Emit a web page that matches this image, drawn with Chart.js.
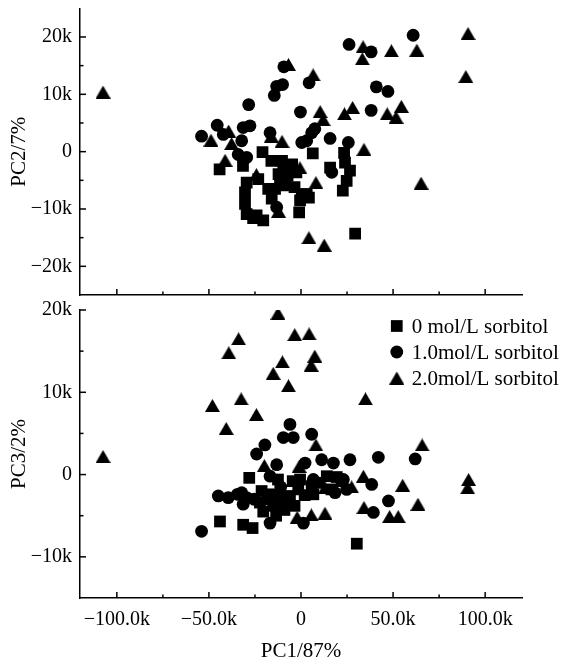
<!DOCTYPE html>
<html>
<head>
<meta charset="utf-8">
<script src="https://cdn.jsdelivr.net/npm/chart.js@4/dist/chart.umd.min.js"></script>
<style>
html,body{margin:0;padding:0;background:#fff;}
#wrap{position:relative;width:561px;height:667px;overflow:hidden;background:#fff;}
canvas{position:absolute;left:0;top:0;}
</style>
</head>
<body>
<div id="wrap">
<canvas id="c1" width="561" height="667"></canvas>
<canvas id="c2" width="561" height="667"></canvas>
</div>
<script>
// ---------- data (values in thousands) ----------
const seriesLabels = ['0 mol/L sorbitol', '1.0mol/L sorbitol', '2.0mol/L sorbitol'];

const xTicks = [-100, -50, 0, 50, 100];
const xTickLabels = ['\u2212100.0k', '\u221250.0k', '0', '50.0k', '100.0k'];
const xMinorTicks = [-75, -25, 25, 75];

const pc2Ticks = [-20, -10, 0, 10, 20];
const pc2TickLabels = ['\u221220k', '\u221210k', '0', '10k', '20k'];
const pc2MinorTicks = [-15, -5, 5, 15];

const pc3Ticks = [-10, 0, 10, 20];
const pc3TickLabels = ['\u221210k', '0', '10k', '20k'];
const pc3MinorTicks = [-5, 5, 15];

// PC1 vs PC2 (top panel)
const pc2Sorb0 = [[-44.2,-3.1],[-31.5,-2.5],[-20.9,-0.1],[-29.5,-5.4],[-23.2,-4.8],[-30.4,-7.1],[-17.8,-6.5],
  [-30.4,-9.1],[-29.5,-10.9],[-24.1,-11.1],[-20.5,-12.0],[-15.9,-8.2],[-16.1,-1.6],[-10.3,-1.6],[-4.8,-2.2],
  [-12.2,-3.9],[-7.3,-4.2],[-2.5,-3.6],[-8.3,-5.9],[-3.5,-6.2],[-14.1,-6.5],[0.4,-7.4],[4.3,-8.0],[-1.0,-10.6],
  [6.4,-0.3],[23.4,-0.2],[23.9,-1.9],[26.6,-3.3],[24.8,-5.1],[22.7,-6.8],[15.8,-2.8],[29.4,-14.3],[-0.5,-8.5],
  [-11.4,-4.5],[-26.0,-11.6],[-9.6,-2.5],[3.1,-7.4]];
const pc2Sorb1 = [[60.9,20.3],[26.1,18.7],[38.1,17.4],[-9.3,14.8],[-13.2,11.4],[-10.0,11.7],[-14.5,9.8],[4.4,12.0],
  [40.9,11.3],[47.2,10.5],[-28.4,8.2],[-0.3,6.9],[38.1,7.2],[-54.0,2.7],[-45.5,4.6],[-42.2,3.0],[-31.4,4.2],
  [-27.7,4.5],[-32.2,1.9],[-16.8,3.3],[-34.1,-0.5],[-29.5,-1.0],[15.8,2.3],[25.7,1.6],[16.7,-3.6],[0.4,1.6],
  [3.1,1.9],[5.8,3.3],[7.5,4.0],[-13.2,-9.7]];
const pc2Sorb2 = [[-107.5,10.4],[90.7,20.6],[89.5,13.1],[62.9,17.7],[49.1,17.6],[33.7,18.3],[33.3,16.2],[-6.8,15.2],
  [6.6,13.4],[10.4,7.0],[12.0,5.6],[23.6,6.6],[28.0,7.7],[46.8,6.6],[51.6,6.0],[54.5,7.9],[34.2,0.4],[65.2,-5.5],
  [4.3,-15.0],[12.6,-16.3],[-48.9,2.0],[-39.3,3.6],[-37.7,1.4],[-41.2,-1.5],[-16.1,2.7],[-10.3,1.8],[-24.2,-4.0],
  [-0.6,-2.8],[8.1,-5.4],[-12.2,-10.4]];

// PC1 vs PC3 (bottom panel)
const pc3Sorb0 = [[-28.1,-0.4],[-44.0,-5.7],[-31.4,-6.1],[-26.3,-6.5],[30.3,-8.4],[-21.4,-2.0],[-16.8,-2.4],
  [-11.4,-2.6],[-6.0,-2.6],[-1.5,-1.8],[-0.5,-0.6],[5.8,-1.4],[6.7,-2.4],[-22.3,-3.4],[-15.1,-3.8],[-20.5,-4.5],
  [-7.8,-3.4],[14.0,-0.2],[19.4,-0.3],[16.5,-1.8],[-12.5,-0.6],[-3.5,-3.8],[-18.0,-3.0],[-9.0,-4.3],[-13.5,-5.0],
  [2.0,-2.5],[-4.5,-0.8],[10.0,-1.0],[22.0,-0.8]];
const pc3Sorb1 = [[-54.0,-6.9],[-44.9,-2.6],[-39.5,-2.8],[-32.2,-2.2],[-29.5,-2.8],[-31.4,-3.6],[-34.5,-2.4],
  [-24.1,2.5],[-19.6,3.6],[-9.6,4.5],[-4.2,4.5],[-6.0,6.1],[5.8,4.9],[-13.2,1.2],[2.2,1.4],[11.2,1.8],[17.6,1.4],
  [26.6,1.8],[42.0,2.1],[62.0,1.9],[38.4,-1.2],[47.5,-3.2],[39.3,-4.6],[-16.8,-5.9],[1.3,-5.9],[-16.8,-0.2],
  [18.5,-2.2],[24.8,-1.8],[23.0,-0.6],[6.7,-0.6],[-14.0,-3.5],[-25.5,-3.0],[-11.0,-1.5]];
const pc3Sorb2 = [[-107.5,2.2],[-12.5,19.6],[-33.9,16.5],[-39.2,14.8],[-3.4,17.0],[4.4,17.1],[7.5,14.4],[5.5,13.3],
  [-10.1,13.7],[-15.1,12.3],[-6.8,10.8],[-32.5,9.2],[-48.1,8.4],[-24.2,7.3],[-40.6,5.6],[35.0,9.2],[65.8,3.6],
  [8.1,3.6],[91.0,-0.6],[90.5,-1.6],[55.2,-1.3],[63.5,-3.6],[33.9,-0.2],[34.2,-4.0],[48.1,-5.1],[52.8,-5.1],
  [13.0,-4.7],[5.6,-4.9],[-2.1,-5.2],[-19.9,1.1],[-1.0,1.0],[13.0,-1.6],[27.5,-1.5]];

// ---------- styling ----------
const FONT = '"Liberation Serif", "Times New Roman", serif';
const INK = '#000';

function makeTriangle(w, h) {
  const c = document.createElement('canvas');
  c.width = w; c.height = h;
  const g = c.getContext('2d');
  g.fillStyle = INK;
  g.beginPath();
  g.moveTo(w / 2, 0);
  g.lineTo(w, h);
  g.lineTo(0, h);
  g.closePath();
  g.fill();
  return c;
}
const TRI = makeTriangle(15, 13);

const markerStyles = [
  {pointStyle: 'rect', pointRadius: 8.3},
  {pointStyle: 'circle', pointRadius: 6.4},
  {pointStyle: TRI, pointRadius: 7}
];

function toPts(arr) { return arr.map(p => ({x: p[0], y: p[1]})); }

function datasets(groups) {
  return groups.map((g, i) => ({
    label: seriesLabels[i],
    data: toPts(g),
    pointStyle: markerStyles[i].pointStyle,
    pointRadius: markerStyles[i].pointRadius,
    pointBackgroundColor: INK,
    pointBorderColor: INK,
    pointBorderWidth: 0,
    showLine: false
  }));
}

const inwardTicks = {
  id: 'inwardTicks',
  afterDraw(chart, args, o) {
    const {ctx, chartArea: a, scales: {x, y}} = chart;
    ctx.save();
    ctx.strokeStyle = INK;
    ctx.lineWidth = 1.5;
    const seg = (x1, y1, x2, y2) => { ctx.beginPath(); ctx.moveTo(x1, y1); ctx.lineTo(x2, y2); ctx.stroke(); };
    o.xMajor.forEach(v => { const p = x.getPixelForValue(v); seg(p, a.bottom, p, a.bottom - 6); });
    o.xMinor.forEach(v => { const p = x.getPixelForValue(v); seg(p, a.bottom, p, a.bottom - 3.5); });
    o.yMajor.forEach(v => { const p = y.getPixelForValue(v); seg(a.left, p, a.left + 6, p); });
    o.yMinor.forEach(v => { const p = y.getPixelForValue(v); seg(a.left, p, a.left + 3.5, p); });
    ctx.restore();
  }
};

const innerLegend = {
  id: 'innerLegend',
  afterDraw(chart, args, o) {
    if (!o.show) return;
    const {ctx, chartArea: a, scales: {x}} = chart;
    ctx.save();
    ctx.fillStyle = INK;
    ctx.font = '21px ' + FONT;
    ctx.textBaseline = 'middle';
    ctx.textAlign = 'left';
    const mx = x.getPixelForValue(o.markerAt);
    chart.data.datasets.forEach((ds, i) => {
      const yy = a.top + o.firstRow + i * o.rowGap;
      const st = ds.pointStyle;
      if (st === 'rect') {
        const h = Math.SQRT1_2 * ds.pointRadius;
        ctx.fillRect(mx - h, yy - h, 2 * h, 2 * h);
      } else if (st === 'circle') {
        ctx.beginPath(); ctx.arc(mx, yy, ds.pointRadius, 0, Math.PI * 2); ctx.fill();
      } else {
        ctx.drawImage(st, mx - st.width / 2, yy - st.height / 2);
      }
      ctx.fillText(ds.label, mx + 15, yy + 1);
    });
    ctx.restore();
  }
};

function fixWidth(w) {
  return s => { s.width = w; s.paddingTop = 0; s.paddingBottom = 0; s.paddingLeft = 0; s.paddingRight = 0; };
}
function fixHeight(h) {
  return s => { s.height = h; s.paddingLeft = 0; s.paddingRight = 0; s.paddingTop = 0; s.paddingBottom = 0; };
}
function setTicks(vals) {
  return s => { s.ticks = vals.map(v => ({value: v})); };
}

function makeChart(id, groups, opt) {
  return new Chart(document.getElementById(id), {
    type: 'scatter',
    data: {datasets: datasets(groups)},
    options: {
      responsive: false,
      animation: false,
      events: [],
      devicePixelRatio: 1,
      layout: {padding: opt.padding},
      plugins: {
        legend: {display: false},
        tooltip: {enabled: false},
        inwardTicks: {xMajor: xTicks, xMinor: xMinorTicks, yMajor: opt.yTicks, yMinor: opt.yMinor},
        innerLegend: {show: opt.legend, markerAt: 52, firstRow: 16, rowGap: 26}
      },
      scales: {
        x: {
          type: 'linear',
          min: -120, max: 120,
          afterBuildTicks: setTicks(xTicks),
          afterFit: fixHeight(opt.xHeight),
          grid: {display: false, drawTicks: false},
          border: {display: true, color: INK, width: 1.5},
          ticks: {
            display: opt.xLabels,
            color: INK,
            padding: 10,
            maxRotation: 0,
            autoSkip: false,
            font: {family: FONT, size: 20},
            callback: (v, i) => xTickLabels[i]
          },
          title: {
            display: opt.xLabels,
            text: 'PC1/87%',
            color: INK,
            font: {family: FONT, size: 21},
            padding: {top: 0, bottom: 3}
          }
        },
        y: {
          type: 'linear',
          min: opt.yMin, max: opt.yMax,
          afterBuildTicks: setTicks(opt.yTicks),
          afterFit: fixWidth(80),
          grid: {display: false, drawTicks: false},
          border: {display: true, color: INK, width: 1.5},
          ticks: {
            color: INK,
            padding: 8,
            autoSkip: false,
            font: {family: FONT, size: 20},
            callback: (v, i) => opt.yLabels[i]
          },
          title: {
            display: true,
            text: opt.yTitle,
            color: INK,
            font: {family: FONT, size: 21},
            padding: {top: 7, bottom: 0}
          }
        }
      }
    },
    plugins: [inwardTicks, innerLegend]
  });
}

// top panel: PC1 vs PC2
makeChart('c1', [pc2Sorb0, pc2Sorb1, pc2Sorb2], {
  padding: {top: 6, right: 39, bottom: 0, left: 0},
  xHeight: 372,
  xLabels: false,
  yMin: -25, yMax: 25,
  yTicks: pc2Ticks, yLabels: pc2TickLabels, yMinor: pc2MinorTicks,
  yTitle: 'PC2/7%',
  legend: false
});

// bottom panel: PC1 vs PC3
makeChart('c2', [pc3Sorb0, pc3Sorb1, pc3Sorb2], {
  padding: {top: 310, right: 39, bottom: 0, left: 0},
  xHeight: 69,
  xLabels: true,
  yMin: -15, yMax: 20,
  yTicks: pc3Ticks, yLabels: pc3TickLabels, yMinor: pc3MinorTicks,
  yTitle: 'PC3/2%',
  legend: true
});
</script>
</body>
</html>
